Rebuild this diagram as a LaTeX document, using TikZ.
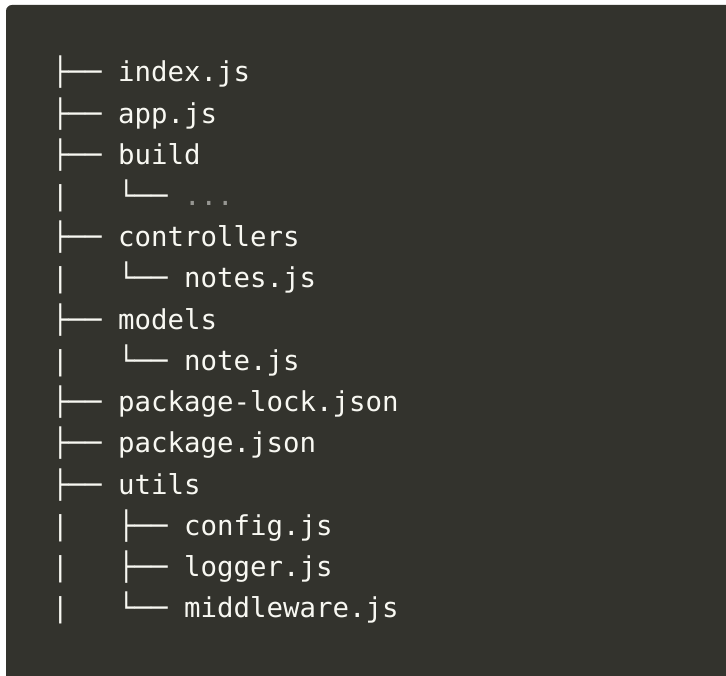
\documentclass[tikz,border=0pt]{standalone}
\usepackage{fontspec}
\setmonofont{DejaVu Sans Mono}
\definecolor{panel}{RGB}{51,51,45}
\definecolor{codefg}{RGB}{248,248,242}
\definecolor{dimfg}{RGB}{150,150,146}
\begin{document}
\begin{tikzpicture}[x=1pt,y=-1pt,
  line/.style={anchor=base west, inner sep=0pt, text=codefg, font=\ttfamily\fontsize{27.4}{30}\selectfont}]
\useasboundingbox (0,0) rectangle (726,676);
\fill[white] (0,0) rectangle (726,676);
\fill[panel, rounded corners=6pt] (6,5) rectangle (740,690);
\def\lx{52}
\node[line] (l1)  at (\lx, 82.0)  {├── index.js};
\node[line] (l2)  at (\lx, 123.2) {├── app.js};
\node[line] (l3)  at (\lx, 164.4) {├── build};
\node[line] (l4)  at (\lx, 205.6) {|~~~└── \textcolor{dimfg}{...}};
\node[line] (l5)  at (\lx, 246.8) {├── controllers};
\node[line] (l6)  at (\lx, 288.0) {|~~~└── notes.js};
\node[line] (l7)  at (\lx, 329.2) {├── models};
\node[line] (l8)  at (\lx, 370.4) {|~~~└── note.js};
\node[line] (l9)  at (\lx, 411.6) {├── package-lock.json};
\node[line] (l10) at (\lx, 452.8) {├── package.json};
\node[line] (l11) at (\lx, 494.0) {├── utils};
\node[line] (l12) at (\lx, 535.2) {|~~~├── config.js};
\node[line] (l13) at (\lx, 576.4) {|~~~├── logger.js};
\node[line] (l14) at (\lx, 617.6) {|~~~└── middleware.js};
\end{tikzpicture}
\end{document}
